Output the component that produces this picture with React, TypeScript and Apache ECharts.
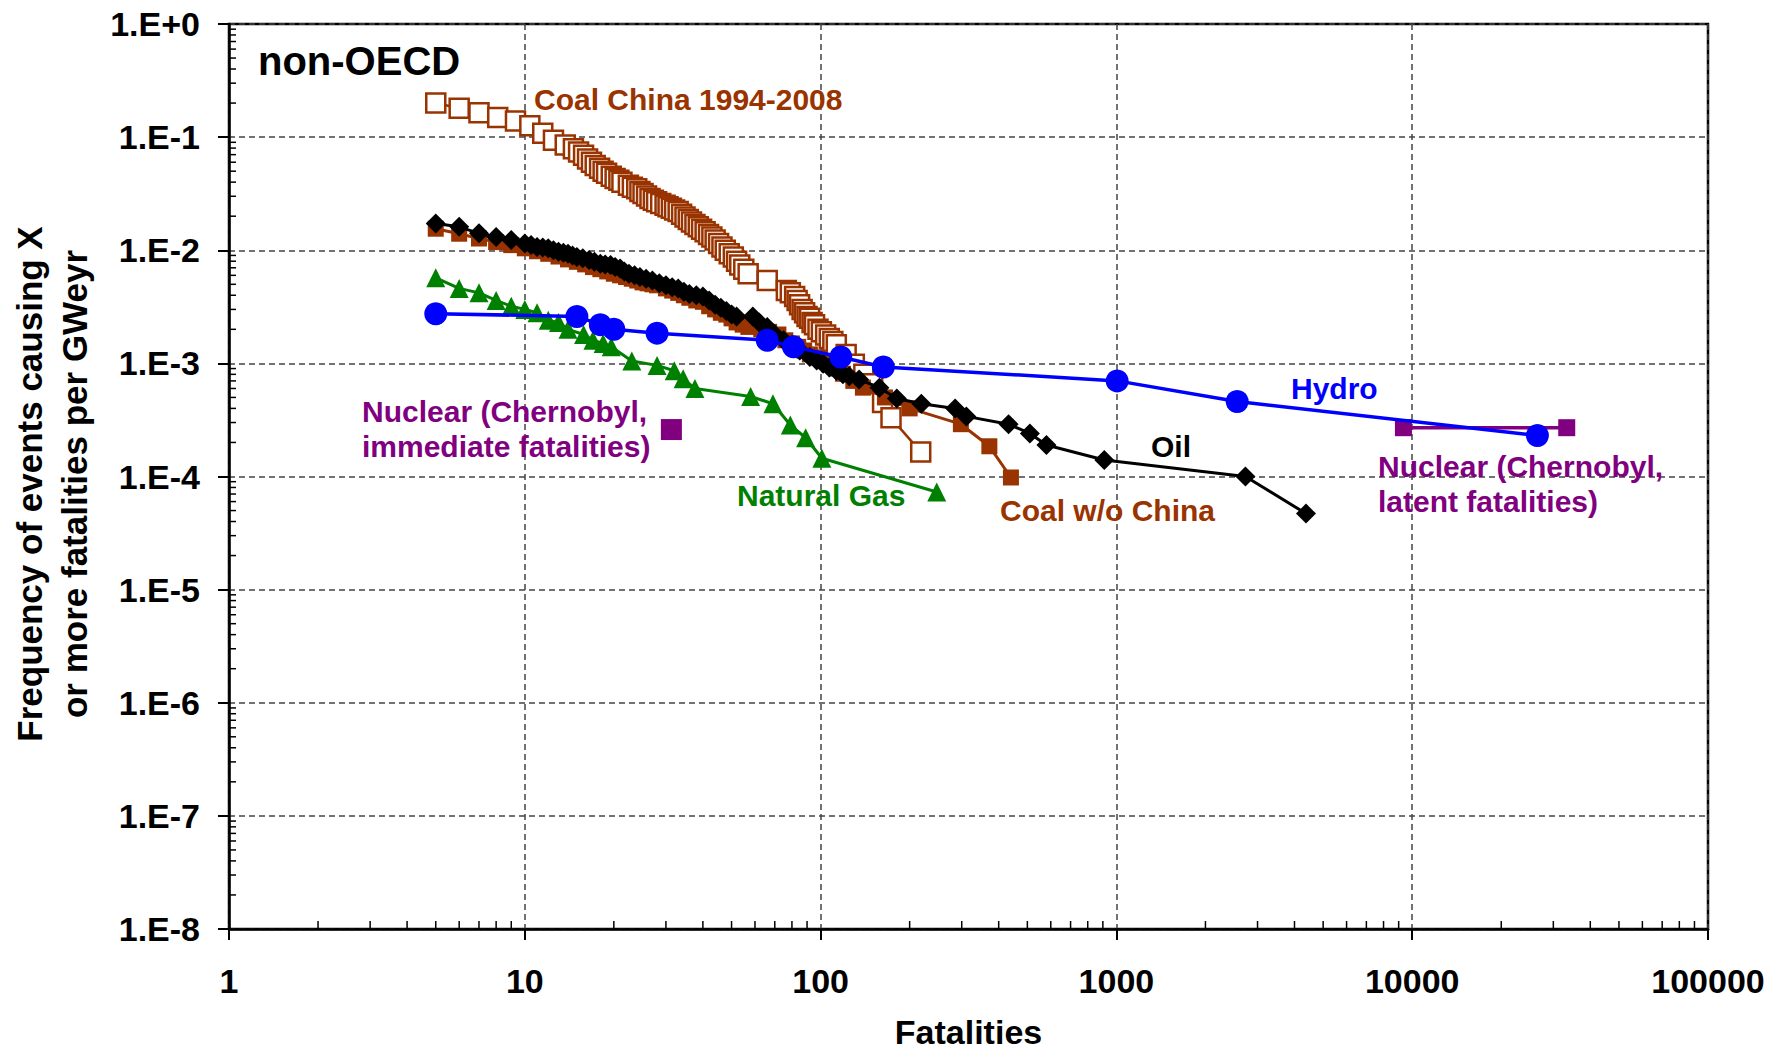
import React, { useEffect, useRef } from "react";
import * as echarts from "echarts";

// ---- tick labels ----
const xTickLabels = ["1", "10", "100", "1000", "10000", "100000"];
const yTickLabels = ["1.E+0", "1.E-1", "1.E-2", "1.E-3", "1.E-4", "1.E-5", "1.E-6", "1.E-7", "1.E-8"];

// ---- series data: [fatalities, frequency per GWeyr] ----
const coalChina: number[][] = [
  [5, 0.2], [6, 0.18], [7, 0.164], [8.1, 0.149], [9.3, 0.139], [10.4, 0.126], [11.5, 0.108],
  [12.5, 0.094], [13.7, 0.085], [14.6, 0.079], [15.2, 0.074], [15.8, 0.069], [16.3, 0.064],
  [16.8, 0.06], [17.3, 0.056], [17.9, 0.053], [18.4, 0.05], [18.9, 0.048], [19.6, 0.045],
  [20.2, 0.043], [20.8, 0.0415], [21.3, 0.04], [22.4, 0.0375], [23.1, 0.036], [23.9, 0.035],
  [24.5, 0.033], [25.1, 0.0317], [25.8, 0.0302], [26.5, 0.0287], [27.2, 0.0277], [27.9, 0.0268],
  [28.8, 0.0259], [29.8, 0.025], [30.5, 0.0242], [31.3, 0.0235], [32.1, 0.0227], [33, 0.022],
  [33.9, 0.0208], [34.8, 0.0197], [35.7, 0.0187], [36.6, 0.0178], [37.6, 0.0169], [38.6, 0.0161],
  [39.6, 0.0153], [40.7, 0.0146], [41.8, 0.0138], [42.9, 0.0131], [44, 0.0123], [45.2, 0.0115],
  [46.4, 0.0107], [47.6, 0.01], [49.1, 0.0093], [50.7, 0.0087], [52, 0.008], [53.3, 0.0074],
  [55, 0.0068], [56.9, 0.0062], [66, 0.0054], [76.6, 0.0044], [79, 0.0042], [81.7, 0.0039],
  [83.3, 0.0036], [84.9, 0.0033], [86.6, 0.003], [88.3, 0.0028], [90, 0.0026], [91.8, 0.0025],
  [93.6, 0.0023], [95.4, 0.0022], [98, 0.002], [100.6, 0.0019], [104, 0.00178], [107, 0.00166],
  [110, 0.00156], [113, 0.00146], [122, 0.0012], [130, 0.00098], [140, 0.0008], [150, 0.00066],
  [162, 0.00045], [173, 0.00033], [218, 0.000165],
];

const coalNoChina: number[][] = [
  [5, 0.0155], [6, 0.014], [7, 0.0127], [8, 0.0118], [9, 0.0111], [10, 0.0104], [11, 0.0098],
  [12, 0.0093], [13, 0.0088], [14, 0.0083], [15, 0.0079], [16, 0.0075], [17, 0.0071], [18, 0.0068],
  [19, 0.0065], [20, 0.0062], [21, 0.006], [22, 0.0058], [23, 0.0056], [24, 0.0054], [25, 0.0052],
  [26, 0.0051], [27, 0.005], [28, 0.0049], [30, 0.0046], [31.5, 0.0044], [33, 0.0042],
  [34.5, 0.004], [36, 0.0038], [38, 0.0036], [40, 0.0035], [42, 0.0032], [44, 0.003], [46, 0.0028],
  [48, 0.0027], [50, 0.0025], [52, 0.0023], [54.5, 0.0022], [57, 0.0021], [63, 0.002], [67, 0.0019],
  [72, 0.0018], [76, 0.0016], [80, 0.0015], [84, 0.0014], [88, 0.0013], [92, 0.0012],
  [97, 0.00113], [102, 0.00105], [107, 0.00098], [113, 0.0009], [119, 0.00081], [129, 0.0007],
  [139, 0.00061], [165, 0.0005], [200, 0.0004], [298, 0.00029], [372, 0.000185], [440, 0.000098],
];

const oil: number[][] = [
  [5, 0.0172], [6, 0.0161], [7, 0.0141], [8, 0.0131], [9, 0.0123], [10, 0.0115], [10.5, 0.0111],
  [11, 0.0107], [11.5, 0.0106], [12, 0.0104], [12.5, 0.01], [13, 0.0097], [13.5, 0.0095],
  [14, 0.0093], [14.5, 0.009], [15, 0.0087], [15.7, 0.0085], [16.5, 0.0082], [17.2, 0.0079],
  [18, 0.0076], [18.7, 0.0075], [19.5, 0.0074], [20.2, 0.0071], [21, 0.0069], [21.7, 0.0065],
  [22.5, 0.0062], [23.5, 0.006], [24.5, 0.0058], [25.7, 0.0056], [27, 0.0054], [28.5, 0.0051],
  [30, 0.0049], [31.5, 0.0047], [33, 0.0046], [34.5, 0.0043], [36, 0.0041], [38, 0.004],
  [40, 0.0039], [42, 0.0036], [44, 0.0033], [46, 0.0031], [48, 0.0029], [50, 0.0027], [52, 0.0026],
  [59, 0.0026], [62, 0.0023], [66, 0.0021], [70, 0.0018], [75, 0.0016], [80, 0.00145], [85, 0.0013],
  [92, 0.00114], [97, 0.00106], [102, 0.00099], [107, 0.00092], [113, 0.00086], [119, 0.0008],
  [125, 0.00077], [135, 0.00072], [158, 0.00061], [181, 0.00049], [219, 0.00044], [285, 0.0004],
  [311, 0.00034], [432, 0.00029], [510, 0.00024], [580, 0.00019], [910, 0.00014], [2730, 0.0001],
  [4375, 0.000047],
];

const naturalGas: number[][] = [
  [5, 0.0057], [6, 0.0046], [7, 0.0042], [8, 0.0036], [9, 0.0032], [10, 0.003], [11, 0.0028],
  [12, 0.0024], [13, 0.0023], [14, 0.002], [15.8, 0.0018], [17, 0.0016], [18.4, 0.0015],
  [19.6, 0.0014], [23, 0.00105], [28, 0.00096], [32, 0.00086], [34.3, 0.00073], [37.6, 0.0006],
  [58, 0.00051], [69, 0.00044], [79, 0.000285], [89, 0.00022], [101, 0.000145], [247, 0.000073],
];

const hydro: number[][] = [
  [5, 0.00275], [15, 0.0026], [18, 0.0022], [20, 0.002], [28, 0.00185], [66, 0.0016], [81, 0.0014],
  [117, 0.00114], [163, 0.00093], [1006, 0.0007], [2560, 0.00046], [26500, 0.00023],
];

const nuclearLatent: number[][] = [[9340, 0.00027], [33300, 0.00027]];
const nuclearImmediate: number[][] = [[31.3, 0.00026]];

// ---- minor tick positions (axis decoration) ----
const xDecades = [1, 10, 100, 1000, 10000];
const yDecades = [1e-8, 1e-7, 1e-6, 1e-5, 1e-4, 1e-3, 1e-2, 1e-1];
const minorMultipliers = [2, 3, 4, 5, 6, 7, 8, 9];

const BROWN = "#993300";
const GREEN = "#008000";
const BLUE = "#0000ff";
const PURPLE = "#800080";
const FONT = '"Liberation Sans", Arial, sans-serif';

function buildOption() {
  const xMinor: number[][] = [];
  xDecades.forEach((d) => minorMultipliers.forEach((m) => xMinor.push([m * d, 1e-8])));
  const yMinor: number[][] = [];
  yDecades.forEach((d) => minorMultipliers.forEach((m) => yMinor.push([1, m * d])));

  const labelText = (text: string, x: number, y: number, color: string, size = 30, lineHeight = 35) => ({
    type: "text",
    x,
    y,
    silent: true,
    z: 100,
    style: {
      text,
      fill: color,
      font: `bold ${size}px ${FONT}`,
      lineHeight,
      textAlign: "left",
      textVerticalAlign: "middle",
    },
  });

  const gridLine = { show: true, lineStyle: { color: "#444", width: 1.5, type: [6, 4] } };

  return {
    animation: false,
    backgroundColor: "#ffffff",
    grid: {
      left: 229,
      top: 24,
      width: 1479,
      height: 905,
      show: true,
      borderColor: "#000",
      borderWidth: 2.5,
      containLabel: false,
      outerBoundsMode: "none",
    },
    xAxis: {
      type: "log",
      logBase: 10,
      min: 1,
      max: 100000,
      splitNumber: 5,
      name: "Fatalities",
      nameLocation: "middle",
      nameGap: 86,
      nameTextStyle: { color: "#000", fontWeight: "bold", fontSize: 34, fontFamily: FONT },
      axisLine: { show: true, lineStyle: { color: "#000", width: 2.5 } },
      axisTick: { show: true, length: 11, lineStyle: { color: "#000", width: 2 } },
      axisLabel: {
        margin: 35,
        color: "#000",
        fontWeight: "bold",
        fontSize: 34,
        fontFamily: FONT,
        formatter: (v: number) => xTickLabels[Math.round(Math.log10(v))] ?? "",
      },
      splitLine: gridLine,
    },
    yAxis: {
      type: "log",
      logBase: 10,
      min: 1e-8,
      max: 1,
      splitNumber: 8,
      axisLine: { show: true, lineStyle: { color: "#000", width: 2.5 } },
      axisTick: { show: true, length: 11, lineStyle: { color: "#000", width: 2 } },
      axisLabel: {
        margin: 29,
        color: "#000",
        fontWeight: "bold",
        fontSize: 34,
        fontFamily: FONT,
        formatter: (v: number) => yTickLabels[-Math.round(Math.log10(v))] ?? "",
      },
      splitLine: gridLine,
    },
    graphic: [
      {
        type: "text",
        x: 52,
        y: 484,
        rotation: Math.PI / 2,
        silent: true,
        style: {
          text: "Frequency of events causing X\nor more fatalities per GWeyr",
          fill: "#000",
          font: `bold 35px ${FONT}`,
          lineHeight: 45,
          textAlign: "center",
          textVerticalAlign: "middle",
        },
      },
      labelText("non-OECD", 258, 61, "#000", 40),
      labelText("Coal China 1994-2008", 534, 99, BROWN),
      labelText("Hydro", 1291, 388, BLUE),
      labelText("Oil", 1151, 446, "#000"),
      labelText("Coal w/o China", 1000, 510, BROWN),
      labelText("Natural Gas", 737, 495, GREEN),
      labelText("Nuclear (Chernobyl,\nimmediate fatalities)", 362, 429, PURPLE),
      labelText("Nuclear (Chernobyl,\nlatent fatalities)", 1378, 484, PURPLE),
    ],
    series: [
      {
        type: "custom",
        name: "xMinorTicks",
        coordinateSystem: "cartesian2d",
        silent: true,
        clip: false,
        z: 5,
        data: xMinor,
        renderItem: (_p: any, api: any) => {
          const pt = api.coord([api.value(0), api.value(1)]);
          return {
            type: "line",
            shape: { x1: pt[0], y1: pt[1], x2: pt[0], y2: pt[1] - 8 },
            style: { stroke: "#000", lineWidth: 1.5 },
          };
        },
      },
      {
        type: "custom",
        name: "yMinorTicks",
        coordinateSystem: "cartesian2d",
        silent: true,
        clip: false,
        z: 5,
        data: yMinor,
        renderItem: (_p: any, api: any) => {
          const pt = api.coord([api.value(0), api.value(1)]);
          return {
            type: "line",
            shape: { x1: pt[0], y1: pt[1], x2: pt[0] + 7, y2: pt[1] },
            style: { stroke: "#000", lineWidth: 1.5 },
          };
        },
      },
      {
        type: "line",
        name: "Coal China 1994-2008",
        data: coalChina,
        symbol: "rect",
        symbolSize: 19,
        showAllSymbol: true,
        lineStyle: { color: BROWN, width: 2.5 },
        itemStyle: { color: "#ffffff", borderColor: BROWN, borderWidth: 2.5 },
        emphasis: { disabled: true },
        z: 10,
      },
      {
        type: "line",
        name: "Coal w/o China",
        data: coalNoChina,
        symbol: "rect",
        symbolSize: 16,
        showAllSymbol: true,
        lineStyle: { color: BROWN, width: 3 },
        itemStyle: { color: BROWN, borderWidth: 0 },
        emphasis: { disabled: true },
        z: 11,
      },
      {
        type: "line",
        name: "Oil",
        data: oil,
        symbol: "diamond",
        symbolSize: 20,
        showAllSymbol: true,
        lineStyle: { color: "#000", width: 3 },
        itemStyle: { color: "#000", borderWidth: 0 },
        emphasis: { disabled: true },
        z: 12,
      },
      {
        type: "line",
        name: "Natural Gas",
        data: naturalGas,
        symbol: "triangle",
        symbolSize: 19,
        showAllSymbol: true,
        lineStyle: { color: GREEN, width: 3 },
        itemStyle: { color: GREEN, borderWidth: 0 },
        emphasis: { disabled: true },
        z: 13,
      },
      {
        type: "line",
        name: "Hydro",
        data: hydro,
        symbol: "circle",
        symbolSize: 23,
        showAllSymbol: true,
        lineStyle: { color: BLUE, width: 3.5 },
        itemStyle: { color: BLUE, borderWidth: 0 },
        emphasis: { disabled: true },
        z: 14,
      },
      {
        type: "line",
        name: "Nuclear (Chernobyl, latent fatalities)",
        data: nuclearLatent,
        symbol: "rect",
        symbolSize: 17,
        lineStyle: { color: PURPLE, width: 3.5 },
        itemStyle: { color: PURPLE, borderWidth: 0 },
        emphasis: { disabled: true },
        z: 13,
      },
      {
        type: "line",
        name: "Nuclear (Chernobyl, immediate fatalities)",
        data: nuclearImmediate,
        symbol: "rect",
        symbolSize: 21,
        lineStyle: { color: PURPLE, width: 3 },
        itemStyle: { color: PURPLE, borderWidth: 0 },
        emphasis: { disabled: true },
        z: 15,
      },
    ],
  };
}

export default function App() {
  const ref = useRef<HTMLDivElement>(null);
  useEffect(() => {
    document.body.style.margin = "0";
    document.documentElement.style.overflow = "hidden";
    document.body.style.overflow = "hidden";
    if (!ref.current) return;
    const chart = echarts.init(ref.current, null, { renderer: "svg" });
    chart.setOption(buildOption() as any);
    return () => {
      chart.dispose();
    };
  }, []);
  return (
    <div
      ref={ref}
      style={{ position: "fixed", left: 0, top: 0, width: 1785, height: 1052, background: "#fff" }}
    />
  );
}
